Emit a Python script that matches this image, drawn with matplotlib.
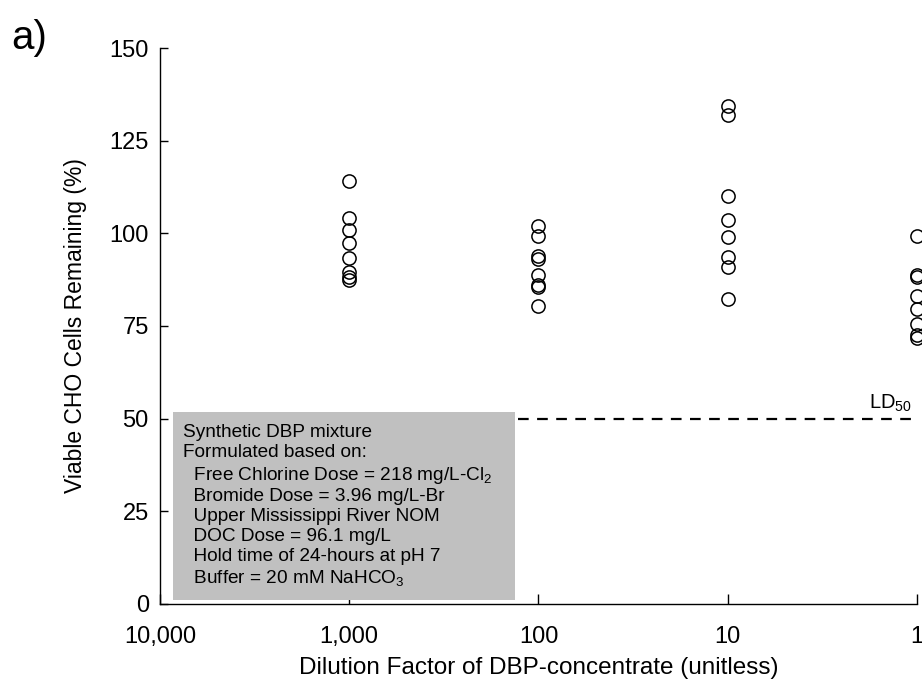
import matplotlib
matplotlib.use('Agg')
import matplotlib.pyplot as plt
from matplotlib.patches import Rectangle

plt.rcParams['font.family'] = ['Liberation Sans', 'DejaVu Sans']
plt.rcParams['mathtext.fontset'] = 'custom'
plt.rcParams['mathtext.rm'] = 'Liberation Sans'

# dilution factors and replicate cell viability (%)
dilutions = [1000, 100, 10, 1]
viability = [
    [114.2, 104.2, 100.9, 97.3, 93.3, 89.5, 88.3, 87.4],
    [102.0, 99.2, 93.8, 93.2, 88.8, 86.0, 85.5, 80.4],
    [134.4, 131.9, 110.0, 103.6, 99.1, 93.7, 91.0, 82.3],
    [99.3, 88.8, 88.3, 83.0, 79.5, 75.5, 72.5, 71.8],
]
ld50 = 50
ld50_start = 128

xticks = [10000, 1000, 100, 10, 1]
xtick_labels = ['10,000', '1,000', '100', '10', '1']
yticks = [0, 25, 50, 75, 100, 125, 150]

info_lines = [
    'Synthetic DBP mixture',
    'Formulated based on:',
    r'  Free Chlorine Dose = 218 mg/L-Cl$_2$',
    '  Bromide Dose = 3.96 mg/L-Br',
    '  Upper Mississippi River NOM',
    '  DOC Dose = 96.1 mg/L',
    '  Hold time of 24-hours at pH 7',
    r'  Buffer = 20 mM NaHCO$_3$',
]

fig = plt.figure(figsize=(9.22, 6.84), dpi=100)
ax = fig.add_axes([0.1735, 0.117, 0.8211, 0.8128])

for x, vals in zip(dilutions, viability):
    ax.plot([x] * len(vals), vals, 'o', ms=9.5, mfc='none', mec='black',
            mew=1.1, clip_on=False)

ax.plot([ld50_start, 1], [ld50, ld50], color='black', lw=1.6,
        linestyle=(0, (4.8, 3.8)), clip_on=False)
ax.text(0.993, ld50 + 1.2, r'LD$_{50}$', ha='right', va='bottom',
        transform=ax.get_yaxis_transform(), fontsize=14.5)

ax.set_xscale('log')
ax.set_xlim(10000, 1)
ax.set_ylim(0, 150)
ax.set_xticks(xticks)
ax.set_xticklabels(xtick_labels)
ax.minorticks_off()
ax.set_yticks(yticks)

ax.spines['top'].set_visible(False)
ax.spines['right'].set_visible(False)
for s in ('left', 'bottom'):
    ax.spines[s].set_linewidth(1.0)
ax.tick_params(direction='in', length=6, width=1.0, labelsize=17)
ax.tick_params(axis='x', pad=16, length=7)
ax.tick_params(axis='y', pad=8)

ax.set_xlabel('Dilution Factor of DBP-concentrate (unitless)', fontsize=17.5,
              labelpad=6)
ax.set_ylabel('Viable CHO Cells Remaining (%)', fontsize=16.5, labelpad=16)

# grey information box in the lower left
ax.add_patch(Rectangle((0.017, 0.007), 0.452, 0.338, transform=ax.transAxes,
                       facecolor='#c0c0c0', edgecolor='none', zorder=3))
ax.text(0.030, 0.323, '\n'.join(info_lines), transform=ax.transAxes,
        ha='left', va='top', fontsize=13.7, linespacing=1.22, zorder=4)

fig.text(0.012, 0.972, 'a)', fontsize=29, ha='left', va='top')

fig.savefig('out.png', dpi=100)
